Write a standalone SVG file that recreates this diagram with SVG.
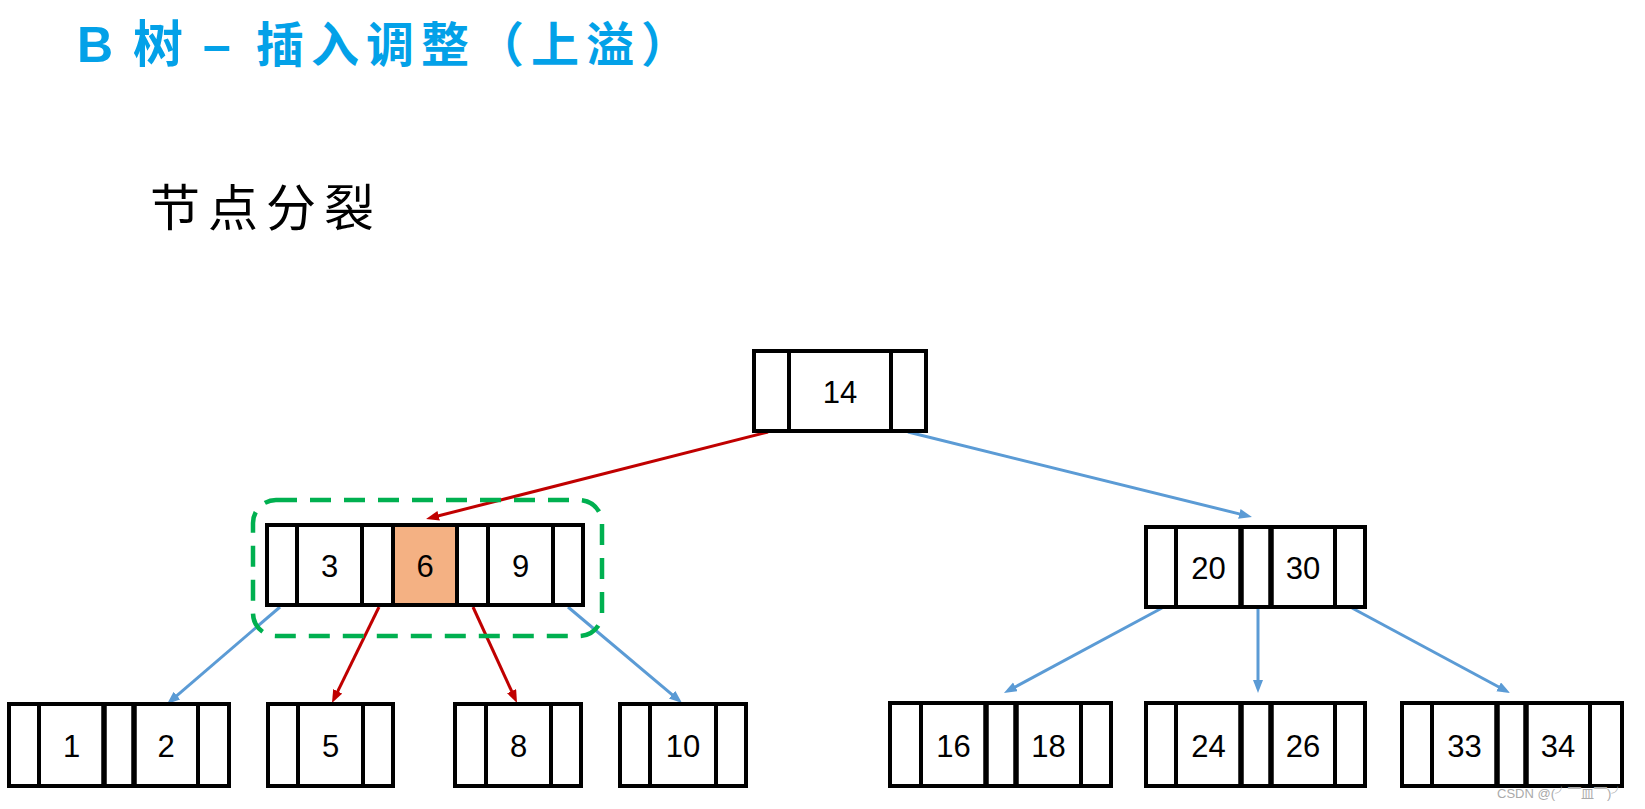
<svg xmlns="http://www.w3.org/2000/svg" width="1645" height="809" viewBox="0 0 1645 809">
<style>
  .bg{fill:#ffffff}
  .box{fill:#ffffff;stroke:#000000;stroke-width:4}
  .div{stroke:#000000;stroke-width:4}
  .dbl{stroke:#000000;stroke-width:5.5}
  .hl{fill:#F4B183;stroke:none}
  .num{font-family:"Liberation Sans",Arial,sans-serif;font-size:31px;fill:#000000;text-anchor:middle}
  .title{font-family:"Liberation Sans","Noto Sans CJK SC",sans-serif;font-size:50px;font-weight:bold;fill:#03A1E8}
  .titlecjk{font-family:"Noto Sans CJK SC",sans-serif;font-size:48px;font-weight:bold;fill:#03A1E8;letter-spacing:7px}
  .sub{font-family:"Noto Sans CJK SC",sans-serif;font-size:50px;fill:#000000;letter-spacing:8px}
  .red{fill:none;stroke:#C00000;stroke-width:3}
  .blue{fill:none;stroke:#5B9BD5;stroke-width:3}
  .dash{fill:none;stroke:#00B050;stroke-width:4.5;stroke-dasharray:21 13}
  .wm{font-family:"Liberation Sans","Noto Sans CJK SC",sans-serif;font-size:13px;fill:#aaaaaa}
</style>
<defs>
  <marker id="ahRed" markerUnits="userSpaceOnUse" markerWidth="14" markerHeight="11" refX="5" refY="5" orient="auto">
    <path d="M0,0 L13,5 L0,10 z" fill="#C00000"/>
  </marker>
  <marker id="ahBlue" markerUnits="userSpaceOnUse" markerWidth="14" markerHeight="11" refX="5" refY="5" orient="auto">
    <path d="M0,0 L13,5 L0,10 z" fill="#5B9BD5"/>
  </marker>
</defs>
<rect class="bg" x="0" y="0" width="1645" height="809"/>

<g id="title">
  <text class="title" x="77" y="62">B</text>
  <text class="title" x="133" y="62" font-family="Noto Sans CJK SC, sans-serif" font-size="48">树</text>
  <text class="title" x="203" y="62">–</text>
  <text class="titlecjk" x="256" y="62">插入调整（上溢）</text>
</g>
<g id="subtitle">
  <text class="sub" x="150" y="226">节点分裂</text>
</g>

<g id="connectors">
  <path class="red" d="M768,432 L433.8,517" marker-end="url(#ahRed)"/>
  <path class="blue" d="M908,432 L1244.2,515.1" marker-end="url(#ahBlue)"/>
  <path class="blue" d="M280,607 L173.1,698.8" marker-end="url(#ahBlue)"/>
  <path class="red" d="M379,607 L335.5,695.8" marker-end="url(#ahRed)"/>
  <path class="red" d="M473,607 L513.7,695.7" marker-end="url(#ahRed)"/>
  <path class="blue" d="M568,607 L675.9,697.9" marker-end="url(#ahBlue)"/>
  <path class="blue" d="M1162,608 L1011,689.2" marker-end="url(#ahBlue)"/>
  <path class="blue" d="M1258,608 L1258,685" marker-end="url(#ahBlue)"/>
  <path class="blue" d="M1352,608 L1503,689.2" marker-end="url(#ahBlue)"/>
</g>

<g id="node-14">
  <rect class="box" x="754" y="351" width="172" height="80"/>
  <line class="div" x1="789" y1="351" x2="789" y2="431"/>
  <line class="div" x1="891" y1="351" x2="891" y2="431"/>
  <text class="num" x="840" y="402.5">14</text>
</g>

<g id="node-3-6-9">
  <rect class="box" x="267" y="525" width="316" height="80"/>
  <rect class="hl" x="393" y="527" width="64" height="76"/>
  <line class="div" x1="297" y1="525" x2="297" y2="605"/>
  <line class="div" x1="362" y1="525" x2="362" y2="605"/>
  <line class="div" x1="393" y1="525" x2="393" y2="605"/>
  <line class="div" x1="457" y1="525" x2="457" y2="605"/>
  <line class="div" x1="488" y1="525" x2="488" y2="605"/>
  <line class="div" x1="553" y1="525" x2="553" y2="605"/>
  <text class="num" x="329.5" y="576.5">3</text>
  <text class="num" x="425" y="576.5">6</text>
  <text class="num" x="520.5" y="576.5">9</text>
</g>

<g id="node-20-30">
  <rect class="box" x="1146" y="527" width="219" height="80"/>
  <line class="div" x1="1176" y1="527" x2="1176" y2="607"/>
  <line class="dbl" x1="1241" y1="527" x2="1241" y2="607"/>
  <line class="dbl" x1="1271" y1="527" x2="1271" y2="607"/>
  <line class="div" x1="1335" y1="527" x2="1335" y2="607"/>
  <text class="num" x="1208.5" y="578.5">20</text>
  <text class="num" x="1303" y="578.5">30</text>
</g>

<g id="node-1-2">
  <rect class="box" x="9" y="704" width="220" height="82"/>
  <line class="div" x1="39" y1="704" x2="39" y2="786"/>
  <line class="dbl" x1="104" y1="704" x2="104" y2="786"/>
  <line class="dbl" x1="134" y1="704" x2="134" y2="786"/>
  <line class="div" x1="198" y1="704" x2="198" y2="786"/>
  <text class="num" x="71.5" y="756.5">1</text>
  <text class="num" x="166" y="756.5">2</text>
</g>

<g id="node-5">
  <rect class="box" x="268" y="704" width="125" height="82"/>
  <line class="div" x1="298" y1="704" x2="298" y2="786"/>
  <line class="div" x1="363" y1="704" x2="363" y2="786"/>
  <text class="num" x="330.5" y="756.5">5</text>
</g>

<g id="node-8">
  <rect class="box" x="455" y="704" width="126" height="82"/>
  <line class="div" x1="486" y1="704" x2="486" y2="786"/>
  <line class="div" x1="551" y1="704" x2="551" y2="786"/>
  <text class="num" x="518.5" y="756.5">8</text>
</g>

<g id="node-10">
  <rect class="box" x="620" y="704" width="126" height="82"/>
  <line class="div" x1="650" y1="704" x2="650" y2="786"/>
  <line class="div" x1="716" y1="704" x2="716" y2="786"/>
  <text class="num" x="683" y="756.5">10</text>
</g>

<g id="node-16-18">
  <rect class="box" x="890" y="703" width="221" height="83"/>
  <line class="div" x1="921" y1="703" x2="921" y2="786"/>
  <line class="dbl" x1="986" y1="703" x2="986" y2="786"/>
  <line class="dbl" x1="1016" y1="703" x2="1016" y2="786"/>
  <line class="div" x1="1081" y1="703" x2="1081" y2="786"/>
  <text class="num" x="953.5" y="756.5">16</text>
  <text class="num" x="1048.5" y="756.5">18</text>
</g>

<g id="node-24-26">
  <rect class="box" x="1146" y="703" width="219" height="83"/>
  <line class="div" x1="1176" y1="703" x2="1176" y2="786"/>
  <line class="dbl" x1="1241" y1="703" x2="1241" y2="786"/>
  <line class="dbl" x1="1271" y1="703" x2="1271" y2="786"/>
  <line class="div" x1="1335" y1="703" x2="1335" y2="786"/>
  <text class="num" x="1208.5" y="756.5">24</text>
  <text class="num" x="1303" y="756.5">26</text>
</g>

<g id="node-33-34">
  <rect class="box" x="1402" y="703" width="220" height="83"/>
  <line class="div" x1="1432" y1="703" x2="1432" y2="786"/>
  <line class="dbl" x1="1497" y1="703" x2="1497" y2="786"/>
  <line class="dbl" x1="1526" y1="703" x2="1526" y2="786"/>
  <line class="div" x1="1590" y1="703" x2="1590" y2="786"/>
  <text class="num" x="1464.5" y="756.5">33</text>
  <text class="num" x="1558" y="756.5">34</text>
</g>

<g id="split-highlight">
  <rect class="dash" x="253" y="500" width="349" height="136" rx="23" ry="23"/>
</g>

<text class="wm" x="1497" y="798">CSDN @(╯▔皿▔)╯</text>
</svg>
